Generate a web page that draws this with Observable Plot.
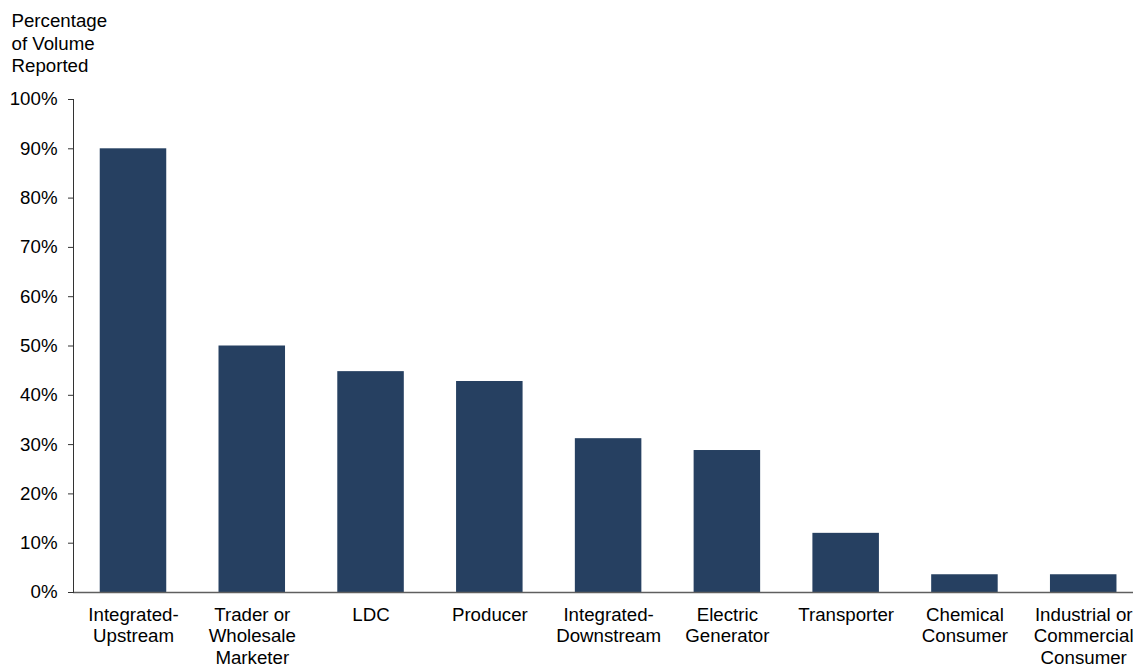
<!DOCTYPE html>
<html>
<head>
<meta charset="utf-8">
<script src="https://cdn.jsdelivr.net/npm/d3@7"></script>
<script src="https://cdn.jsdelivr.net/npm/@observablehq/plot@0.6"></script>
<style>
  html, body { margin: 0; padding: 0; background: white; }
</style>
</head>
<body>
<div id="chart"></div>
<script>
const categories = [
  "Integrated-\nUpstream",
  "Trader or\nWholesale\nMarketer",
  "LDC",
  "Producer",
  "Integrated-\nDownstream",
  "Electric\nGenerator",
  "Transporter",
  "Chemical\nConsumer",
  "Industrial or\nCommercial\nConsumer"
];
const values = [90, 50, 44.8, 42.8, 31.2, 28.8, 12, 3.6, 3.6];
const yTicks = [0, 10, 20, 30, 40, 50, 60, 70, 80, 90, 100];
const yTitle = "Percentage\nof Volume\nReported";

const data = categories.map((c, i) => ({cat: c, value: values[i]}));

const chart = Plot.plot({
  width: 1133,
  height: 667,
  marginLeft: 73,
  marginRight: 0,
  marginTop: 99,
  marginBottom: 75,
  style: {fontFamily: "'Liberation Sans', Arial, sans-serif", fontSize: "18.7px", color: "black", background: "white", overflow: "visible"},
  x: {domain: categories, range: [73.6, 1142.6], paddingInner: 0.44, paddingOuter: 0.22, round: false, axis: null},
  y: {domain: [0, 100], axis: null},
  marks: [
    Plot.barY(data, {x: "cat", y: "value", fill: "#264061"}),
    Plot.axisX({tickSize: 0, tickPadding: 13, lineHeight: 1.15, fontSize: 18.7, label: null}),
    Plot.axisY({ticks: yTicks, tickFormat: d => d + "%", tickSize: 5, tickPadding: 11, stroke: "#333", fontSize: 18.7, label: null}),
    Plot.ruleY([0], {stroke: "#5f5f5f", strokeWidth: 1.5}),
    Plot.frame({anchor: "left", stroke: "#333"}),
    Plot.text([yTitle], {frameAnchor: "top-left", textAnchor: "start", lineAnchor: "top", dx: -62, dy: -88, lineHeight: 1.2, fontSize: 18.7, fill: "black"})
  ]
});
document.getElementById("chart").appendChild(chart);
</script>
</body>
</html>
